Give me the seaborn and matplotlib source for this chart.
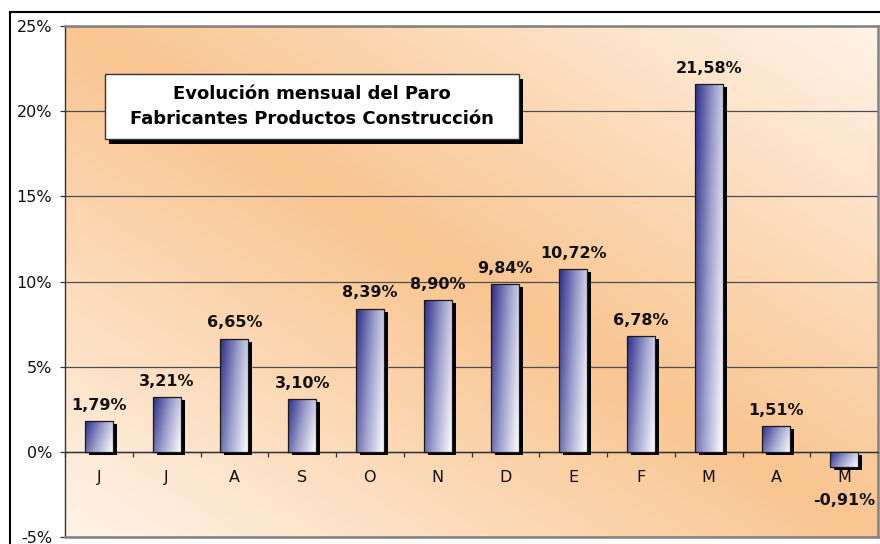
import numpy as np
import pandas as pd
import matplotlib
matplotlib.use("Agg")
import matplotlib.pyplot as plt
import seaborn as sns
from matplotlib.patches import Rectangle
from matplotlib.colors import LinearSegmentedColormap
from matplotlib.transforms import ScaledTranslation

# ---- data ----
months = ["Jun", "Jul", "Ago", "Sep", "Oct", "Nov", "Dic", "Ene", "Feb", "Mar", "Abr", "May"]
tick_labels = ["J", "J", "A", "S", "O", "N", "D", "E", "F", "M", "A", "M"]
values = [1.79, 3.21, 6.65, 3.10, 8.39, 8.90, 9.84, 10.72, 6.78, 21.58, 1.51, -0.91]
y_ticks = [-5, 0, 5, 10, 15, 20, 25]
title_lines = ["Evolución mensual del Paro", "Fabricantes Productos Construcción"]

sns.set_style("white")
plt.rcParams["font.family"] = ["DejaVu Sans"]

W, H = 880, 544
fig = plt.figure(figsize=(W / 100, H / 100), dpi=100)
fig.patch.set_facecolor("white")

def px(x0, y0, x1, y1):
    return [x0 / W, 1 - y1 / H, (x1 - x0) / W, (y1 - y0) / H]

pos = px(65, 26, 878, 537)

# background gradient axes
bg_ax = fig.add_axes(pos, zorder=0)
n = 300
u = np.linspace(0, 1, n)[None, :]
v = np.linspace(0, 1, n)[:, None]
bg = np.abs(u - v)
bg_cmap = LinearSegmentedColormap.from_list("bg", ["#F9C591", "#FCDCBC", "#FFF3E8"])
bg_ax.imshow(bg, cmap=bg_cmap, extent=(0, 1, 0, 1), origin="upper", aspect="auto",
             interpolation="bilinear")
bg_ax.set_axis_off()

ax = fig.add_axes(pos, zorder=1)
ax.set_facecolor("none")

df = pd.DataFrame({"mes": months, "valor": values})
sns.barplot(data=df, x="mes", y="valor", order=months, width=0.41, color="#333399",
            saturation=1, edgecolor="#1a1a1a", linewidth=0.9, ax=ax, errorbar=None)

bar_cmap = LinearSegmentedColormap.from_list("bar", ["#2A2C8A", "#9EA0CC", "#FFFFFF"])
gn = 120
gu = np.linspace(0, 1, gn)[None, :]
gv = np.linspace(0, 1, gn)[:, None]
grad = 0.72 * gu + 0.28 * gv

shadow_tr = ax.transData + ScaledTranslation(4 / 100, -3 / 100, fig.dpi_scale_trans)
for p in list(ax.patches):
    x, y = p.get_x(), p.get_y()
    w, h = p.get_width(), p.get_height()
    y0, y1 = min(y, y + h), max(y, y + h)
    sh = Rectangle((x, y0), w, y1 - y0, facecolor="black", edgecolor="none",
                   transform=shadow_tr, zorder=3)
    ax.add_patch(sh)
    im = ax.imshow(grad, cmap=bar_cmap, extent=(x, x + w, y0, y1), origin="upper",
                   aspect="auto", zorder=3.1, interpolation="bilinear")
    im.set_clip_path(p)
    p.set_facecolor("none")
    p.set_zorder(3.2)

# data labels
for i, val in enumerate(values):
    txt = f"{val:.2f}".replace(".", ",") + "%"
    off = 11.5 if val >= 0 else -24
    ax.annotate(txt, (i, val), xytext=(0, off), textcoords="offset points",
                ha="center", va="center", fontsize=11.5, fontweight="bold",
                color="#111111", zorder=4)

ax.set_xlim(-0.5, len(months) - 0.5)
ax.set_ylim(-5, 25)
ax.set_xlabel("")
ax.set_ylabel("")

# y axis
ax.set_yticks(y_ticks)
ax.set_yticklabels([f"{t}%" for t in y_ticks], fontsize=11.5, color="#111111")
ax.tick_params(axis="y", direction="out", length=3.6, width=0.9, color="#333333", pad=5.5, left=True)
ax.yaxis.grid(True, color="#4d4d4d", linewidth=0.9)
ax.set_axisbelow(True)

# x axis on zero line
ax.spines["bottom"].set_position(("data", 0))
ax.spines["bottom"].set_color("#333333")
ax.spines["bottom"].set_linewidth(1.0)
ax.set_xticks(range(len(months)))
ax.set_xticklabels(tick_labels, fontsize=11.5, color="#111111")
ax.set_xticks(np.arange(-0.5, len(months), 1), minor=True)
ax.tick_params(axis="x", which="major", length=0, pad=13)
ax.tick_params(axis="x", which="minor", direction="out", length=3.6, width=0.9,
               color="#333333", bottom=True)

ax.spines["left"].set_color("#333333")
ax.spines["left"].set_linewidth(1.0)
for s in ["top", "right"]:
    ax.spines[s].set_color("#808080")
    ax.spines[s].set_linewidth(1.8)
ax.plot([0, 1], [0, 0], transform=ax.transAxes, color="#808080", lw=1.8,
        clip_on=False, zorder=5)

# outer chart border
fig.patches.append(Rectangle((10 / W, -0.05), 1.1, 1 - 12 / H + 0.05, transform=fig.transFigure,
                             facecolor="none", edgecolor="black", linewidth=1.5, zorder=0))

# title box
bx0, by0, bx1, by1 = 105, 74, 519, 139
fig.patches.append(Rectangle(((bx0 + 4) / W, 1 - (by1 + 5) / H), (bx1 - bx0) / W, (by1 - by0) / H,
                             transform=fig.transFigure, facecolor="black", edgecolor="none", zorder=10))
fig.patches.append(Rectangle((bx0 / W, 1 - by1 / H), (bx1 - bx0) / W, (by1 - by0) / H,
                             transform=fig.transFigure, facecolor="white", edgecolor="#333333",
                             linewidth=1.0, zorder=11))
cx = (bx0 + bx1) / 2
fig.text(cx / W, 1 - 94 / H, title_lines[0], ha="center", va="center", fontsize=13,
         fontweight="bold", color="black", zorder=12)
fig.text(cx / W, 1 - 119 / H, title_lines[1], ha="center", va="center", fontsize=13,
         fontweight="bold", color="black", zorder=12)

fig.savefig("out.png", dpi=100)
